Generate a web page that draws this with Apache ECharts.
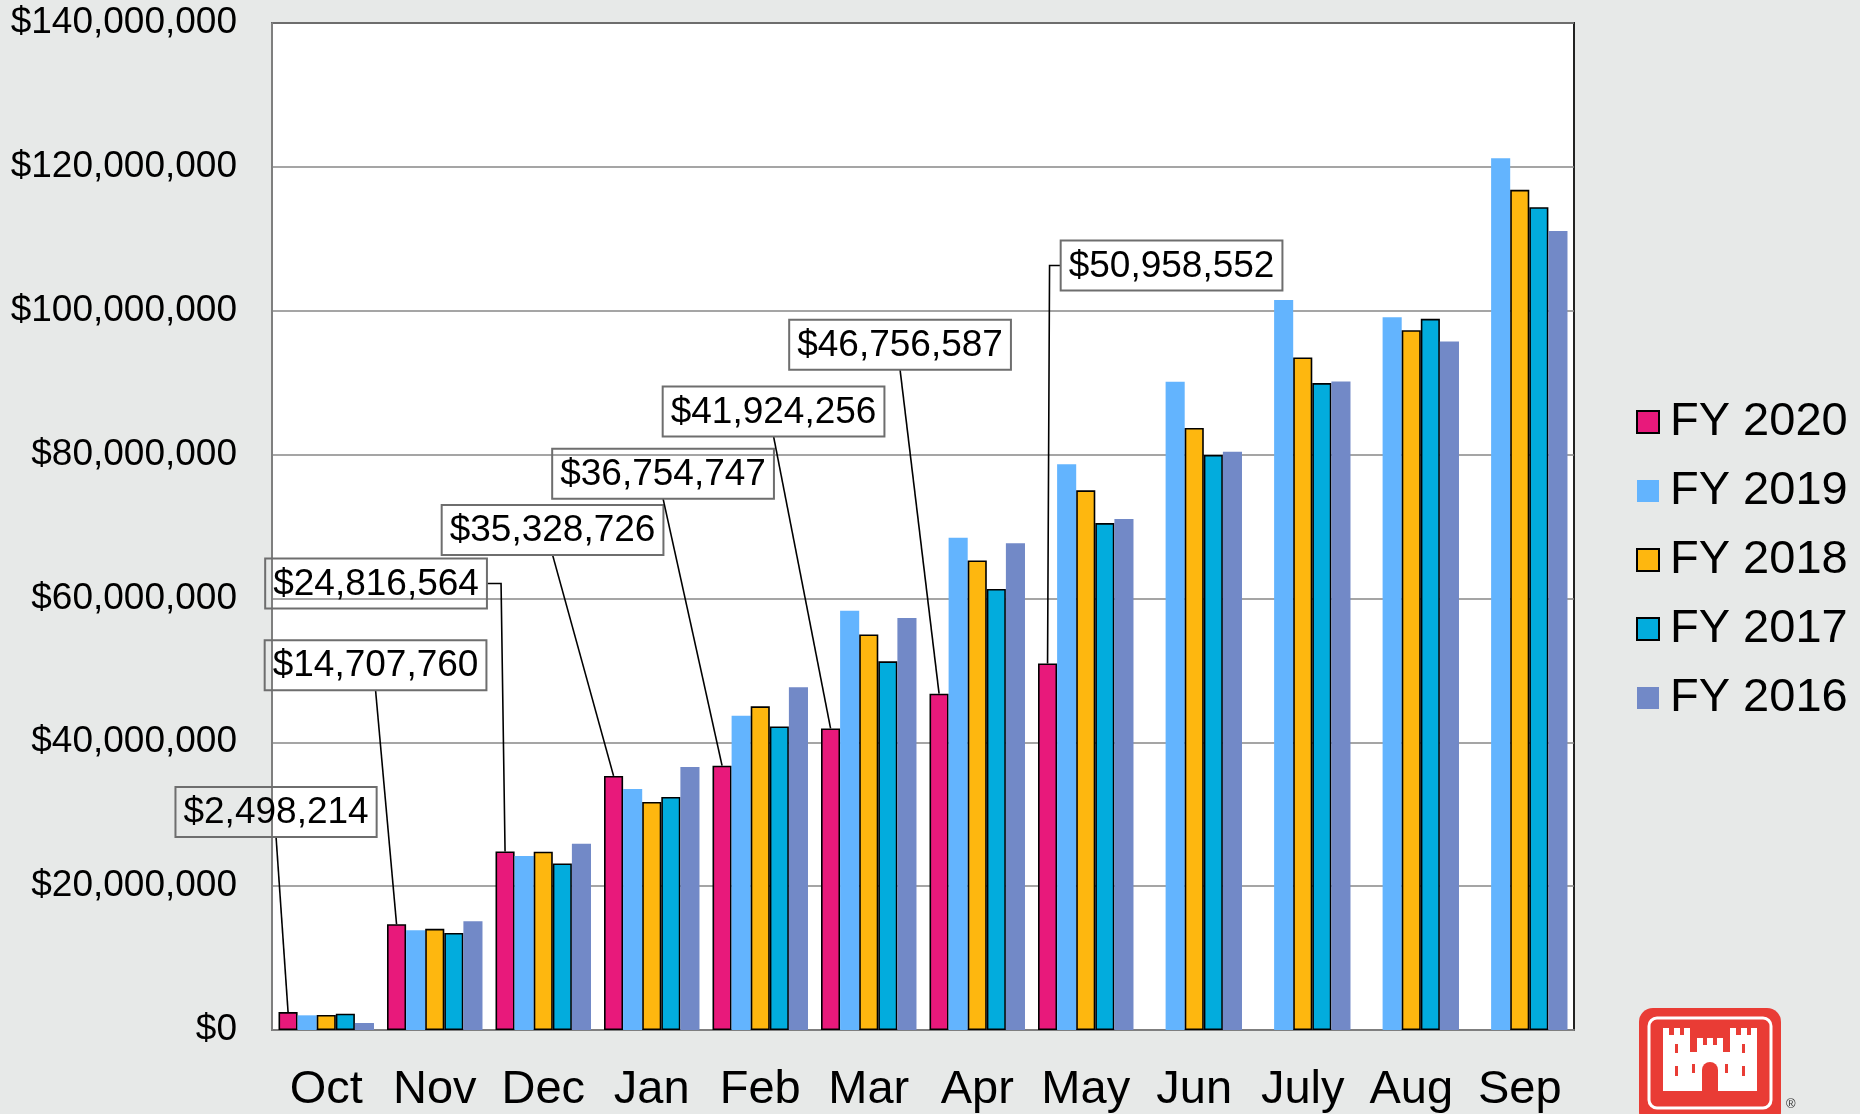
<!DOCTYPE html>
<html><head><meta charset="utf-8">
<script src="https://cdn.jsdelivr.net/npm/echarts@6/dist/echarts.min.js"></script>
<style>html,body{margin:0;padding:0;background:#e7e9e8;} #chart{width:1860px;height:1114px;}</style>
</head><body><div id="chart"></div>
<script>
const MONTHS = ['Oct','Nov','Dec','Jan','Feb','Mar','Apr','May','Jun','July','Aug','Sep'];
const FY2020 = [2498214,14707760,24816564,35328726,36754747,41924256,46756587,50958552,null,null,null,null];
const FY2019 = [2040000,13870000,24180000,33500000,43700000,58300000,68440000,78640000,90130000,101500000,99100000,121200000];
const FY2018 = [2090000,14060000,24780000,31700000,45000000,55000000,65290000,75030000,83700000,93500000,97300000,116800000];
const FY2017 = [2270000,13500000,23160000,32400000,42200000,51260000,61310000,70480000,79950000,89940000,98870000,114400000];
const FY2016 = [970000,15130000,25890000,36570000,47640000,57280000,67660000,71040000,80400000,90170000,95720000,111080000];
const SERIES_NAMES = ['FY 2020','FY 2019','FY 2018','FY 2017','FY 2016'];
const Y_MIN = 0, Y_MAX = 140000000, Y_STEP = 20000000;

// label box offsets (px) relative to the FY 2020 bar top, by month index
const LABEL_LAYOUT = [
  {dx:-12, dy:-200, anchor:'bottom'},
  {dx:-21, dy:-259, anchor:'bottom'},
  {dx:-129, dy:-268, anchor:'right'},
  {dx:-61, dy:-246, anchor:'bottom'},
  {dx:-59, dy:-292, anchor:'bottom'},
  {dx:-57, dy:-317, anchor:'bottom'},
  {dx:-39, dy:-349, anchor:'bottom'},
  {dx:124, dy:-398, anchor:'left'}
];

const FONT = '"Liberation Sans", Arial, Helvetica, sans-serif';
const COLORS = ['#E8197B','#63B4FE','#FEB70F','#02ACDD','#7289C7'];
const BORDERED = [true,false,true,true,false];
const GAP = 0.12;
const fmt = v => '$' + Number(v).toLocaleString('en-US');

const mctx = document.createElement('canvas').getContext('2d');
mctx.font = '37px ' + FONT;

const chart = echarts.init(document.getElementById('chart'), null, {renderer:'canvas'});
const dataSets = [FY2020, FY2019, FY2018, FY2017, FY2016];

const barSeries = dataSets.map((d, k) => ({
  type:'bar', name:SERIES_NAMES[k], data:d,
  barGap:'0%', barCategoryGap:(GAP*100)+'%',
  itemStyle:{color:COLORS[k], borderColor:BORDERED[k]?'#000':COLORS[k], borderWidth:BORDERED[k]?1.6:0},
  emphasis:{disabled:true}, animation:false
}));

const labelData = [];
FY2020.forEach((v,i) => { if (v != null) labelData.push([i, v]); });

const labelSeries = {
  type:'custom', coordinateSystem:'cartesian2d', data:labelData,
  encode:{x:0, y:1}, z:10, silent:true, animation:false, clip:false,
  renderItem: function(params, api) {
    const i = api.value(0), v = api.value(1);
    const lay = LABEL_LAYOUT[i];
    const top = api.coord([i, v]);
    const catW = api.size([1, 0])[0];
    const barW = catW * (1 - GAP) / 5;
    const bx = top[0] - 2 * barW, by = top[1];
    const text = fmt(v);
    const tw = mctx.measureText(text).width;
    const w = tw + 16, h = 50;
    const cx = bx + lay.dx, cy = by + lay.dy;
    let pts;
    if (lay.anchor === 'right') pts = [[cx + w/2, cy], [bx - 4, cy], [bx, by]];
    else if (lay.anchor === 'left') pts = [[cx - w/2, cy], [bx + 2, cy], [bx, by]];
    else pts = [[cx, cy + h/2], [bx, by]];
    return {
      type:'group',
      children:[
        {type:'polyline', shape:{points:pts}, style:{stroke:'#000', lineWidth:1.6, fill:null}},
        {type:'rect', shape:{x:cx - w/2, y:cy - h/2, width:w, height:h}, style:{fill:null, stroke:'#6e6e6e', lineWidth:2}},
        {type:'text', style:{text:text, x:cx, y:cy + 1, align:'center', verticalAlign:'middle', fontSize:37, fontFamily:FONT, fill:'#000'}}
      ]
    };
  }
};

// logo (decoration)
const L = [];
L.push({type:'rect', shape:{x:1639, y:1008, width:142, height:118, r:14}, style:{fill:'#E93C35'}});
L.push({type:'rect', shape:{x:1649, y:1018, width:122, height:90, r:8}, style:{fill:null, stroke:'#fff', lineWidth:3}});
const W = '#fff', R = '#E93C35';
function rr(x,y,w,h,f){ L.push({type:'rect', shape:{x:x,y:y,width:w,height:h}, style:{fill:f}}); }
rr(1663,1035,27,56,W); rr(1730,1035,27,56,W); rr(1697,1045,26,46,W); rr(1663,1052,94,39,W);
[1663,1674,1684].forEach(x=>rr(x,1028,6,8,W));
[1730,1741,1751].forEach(x=>rr(x,1028,6,8,W));
[1697,1707,1717].forEach(x=>rr(x,1038,6,8,W));
rr(1702,1070,16,21,R); L.push({type:'circle', shape:{cx:1710, cy:1070, r:8}, style:{fill:R}});
rr(1675,1044,3,9,R); rr(1742,1044,3,9,R); rr(1675,1066,3,10,R); rr(1742,1066,3,10,R);
rr(1692,1064,3,9,R); rr(1725,1064,3,9,R);
L.push({type:'text', style:{text:'®', x:1786, y:1098, fontSize:13, fontFamily:FONT, fill:'#333'}});

chart.setOption({
  backgroundColor:'#e7e9e8',
  animation:false,
  textStyle:{fontFamily:FONT},
  grid:{left:272, right:286, top:23, bottom:84, show:true, backgroundColor:'#fff', borderColor:'#222', borderWidth:2},
  legend:{
    data:SERIES_NAMES, orient:'vertical', left:1636, top:396, padding:0,
    itemWidth:22, itemHeight:22, itemGap:17, icon:'rect',
    textStyle:{fontSize:47, color:'#000', fontFamily:FONT, lineHeight:52, padding:[0,0,0,6]},
    selectedMode:false
  },
  xAxis:{
    type:'category', data:MONTHS,
    axisTick:{show:false},
    axisLine:{lineStyle:{color:'#7f7f7f', width:2}},
    axisLabel:{interval:0, fontSize:47, color:'#000', margin:37, fontFamily:FONT}
  },
  yAxis:{
    type:'value', min:Y_MIN, max:Y_MAX, interval:Y_STEP,
    axisLine:{show:true, lineStyle:{color:'#7f7f7f', width:2}},
    axisTick:{show:false},
    splitLine:{lineStyle:{color:'#878787', width:1.5}},
    axisLabel:{fontSize:37, color:'#000', margin:35, fontFamily:FONT, formatter:fmt}
  },
  graphic:L,
  series: barSeries.concat([labelSeries])
});
</script></body></html>
